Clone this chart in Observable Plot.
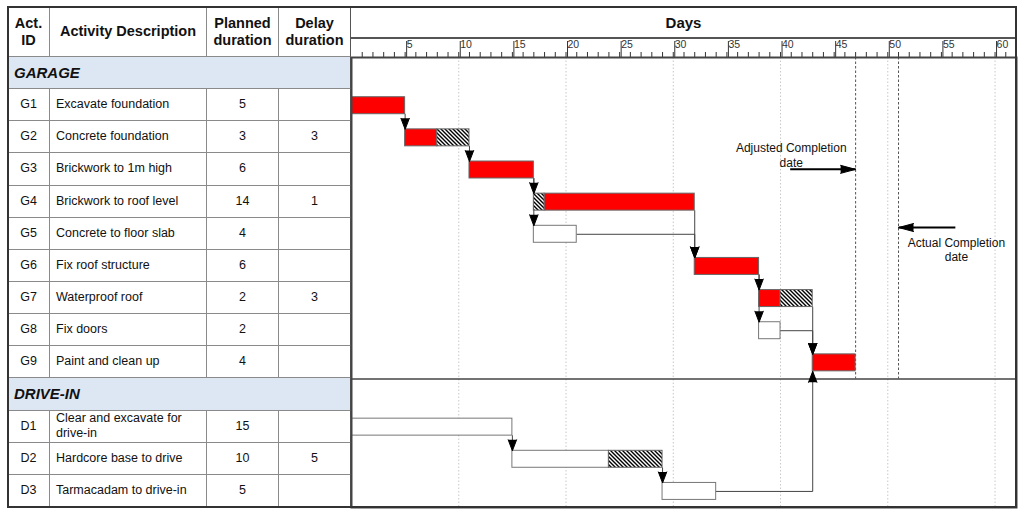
<!DOCTYPE html>
<html>
<head>
<meta charset="utf-8">
<script src="https://cdn.jsdelivr.net/npm/d3@7"></script>
<script src="https://cdn.jsdelivr.net/npm/@observablehq/plot@0.6"></script>
<style>
html, body { margin: 0; padding: 0; background: #fff; }
body { width: 1024px; height: 513px; overflow: hidden; font-family: "Liberation Sans", Arial, sans-serif; color: #111; }
#wrap { position: relative; width: 1024px; height: 513px; }
#table { position: absolute; left: 8px; top: 7px; width: 343px; height: 500px; display: grid;
  grid-template-columns: 42px 157px 72px 72px; grid-template-rows: 50px repeat(14, 1fr); }
.c { border-right: 1px solid #8a8a8a; border-bottom: 1px solid #8a8a8a; display: flex; align-items: center;
  justify-content: center; text-align: center; font-size: 12.5px; box-sizing: border-box; white-space: pre-line; line-height: 15px; }
.h { font-weight: bold; font-size: 14.5px; line-height: 17px; }
.d { justify-content: flex-start; text-align: left; padding-left: 6px; }
.g { grid-column: 1 / span 4; justify-content: flex-start; padding-left: 6px; font-weight: bold; font-style: italic;
  font-size: 15px; background: #dde7f3; }
.last { border-right: 1px solid #555; }
#days { position: absolute; left: 351px; top: 7px; width: 665px; height: 32px; border-bottom: 2px solid #555;
  box-sizing: border-box; display: flex; align-items: center; justify-content: center; font-weight: bold; font-size: 15px; }
#chart { position: absolute; left: 351px; top: 39px; }
#border { position: absolute; left: 7px; top: 6px; width: 1010px; height: 502px; border: 2px solid #333;
  box-sizing: border-box; pointer-events: none; }
</style>
</head>
<body>
<div id="wrap">
  <div id="table"></div>
  <div id="days">Days</div>
  <div id="chart"></div>
  <div id="border"></div>
</div>
<script>
// ---------- data ----------
const groups = ["GARAGE", "DRIVE-IN"];
const ids = ["G1", "G2", "G3", "G4", "G5", "G6", "G7", "G8", "G9", "D1", "D2", "D3"];
const taskGroup = ["GARAGE", "GARAGE", "GARAGE", "GARAGE", "GARAGE", "GARAGE", "GARAGE", "GARAGE", "GARAGE",
  "DRIVE-IN", "DRIVE-IN", "DRIVE-IN"];
const descriptions = ["Excavate foundation", "Concrete foundation", "Brickwork to 1m high", "Brickwork to roof level",
  "Concrete to floor slab", "Fix roof structure", "Waterproof roof", "Fix doors", "Paint and clean up",
  "Clear and excavate for\ndrive-in", "Hardcore base to drive", "Tarmacadam to drive-in"];
const planned = [5, 3, 6, 14, 4, 6, 2, 2, 4, 15, 10, 5];
const delays = [null, 3, null, 1, null, null, 3, null, null, null, 5, null];
// bar extents as drawn in the chart (days)
const workStart = [0, 5, 11, 18, 17, 32, 38, 38, 43, 0, 15, 29];
const workEnd = [5, 8, 17, 32, 21, 38, 40, 40, 47, 15, 24, 34];
const delayStart = [null, 8, null, 17, null, null, 40, null, null, null, 24, null];
const delayEnd = [null, 11, null, 18, null, null, 43, null, null, null, 29, null];
const critical = [true, true, true, true, false, true, true, false, true, false, false, false];
const linkFrom = ["G1", "G2", "G3", "G3", "G4", "G5", "G6", "G6", "G7", "G8", "D1", "D2", "D3"];
const linkTo = ["G2", "G3", "G4", "G5", "G6", "G6", "G7", "G8", "G9", "G9", "D2", "D3", "G9"];
const headers = ["Act.\nID", "Activity Description", "Planned\nduration", "Delay\nduration"];
const gridDays = [10, 20, 30, 40, 50, 60];
const majorTicks = [5, 10, 15, 20, 25, 30, 35, 40, 45, 50, 55, 60];
const minorTicks = d3.range(1, 62);
const completionDays = [47, 51];
const completionLabels = ["Adjusted Completion\ndate", "Actual Completion\ndate"];
const labelDay = [41, 56.4];
const labelRow = [3.03, 5.97];
const arrowFromDay = [40.9, 56.3];
const arrowRow = [3.48, 5.29];

// ---------- layout ----------
const layout = [];
let rowCounter = 0;
groups.forEach(g => {
  layout.push({type: "group", name: g, row: rowCounter++});
  ids.forEach((id, i) => { if (taskGroup[i] === g) layout.push({type: "task", i, row: rowCounter++}); });
});
const nRows = rowCounter;
const rowOf = {};
layout.filter(d => d.type === "task").forEach(d => rowOf[ids[d.i]] = d.row);
const idx = Object.fromEntries(ids.map((id, i) => [id, i]));
const BI = 0.236; // bar inset as fraction of row
const startOf = i => Math.min(workStart[i], delayStart[i] ?? Infinity);
const finishOf = i => Math.max(workEnd[i], delayEnd[i] ?? -Infinity);

// ---------- table ----------
const table = document.getElementById("table");
function cell(cls, txt) { const d = document.createElement("div"); d.className = cls; d.textContent = txt; table.appendChild(d); }
headers.forEach((h, k) => cell("c h" + (k === 3 ? " last" : ""), h));
layout.forEach(L => {
  if (L.type === "group") cell("c g last", L.name);
  else {
    const i = L.i;
    cell("c", ids[i]); cell("c d", descriptions[i]); cell("c", String(planned[i])); cell("c last", delays[i] != null ? String(delays[i]) : "");
  }
});

// ---------- chart data ----------
const work = ids.map((id, i) => ({x1: workStart[i], x2: workEnd[i], y1: rowOf[id] + BI, y2: rowOf[id] + 1 - BI, crit: critical[i]}));
const delaySegs = ids.map((id, i) => ({i, id})).filter(d => delayStart[d.i] != null)
  .map(d => ({x1: delayStart[d.i], x2: delayEnd[d.i], y1: rowOf[d.id] + BI, y2: rowOf[d.id] + 1 - BI}));

const connectorPts = [];
const heads = [];
linkFrom.forEach((a, k) => {
  const b = linkTo[k];
  const ia = idx[a], ib = idx[b];
  const fa = finishOf(ia), sb = startOf(ib), ra = rowOf[a], rb = rowOf[b];
  let pts;
  if (rb > ra) {
    if (fa < sb) pts = [[fa, ra + 0.5], [sb, ra + 0.5], [sb, rb + BI]];
    else pts = [[fa, ra + 1 - BI], [fa, rb + BI]];
    heads.push({x: sb, y: rb + BI, rotate: 180});
  } else {
    if (fa < sb) pts = [[fa, ra + 0.5], [sb, ra + 0.5], [sb, rb + 1 - BI]];
    else pts = [[fa, ra + BI], [fa, rb + 1 - BI]];
    heads.push({x: sb, y: rb + 1 - BI, rotate: 0});
  }
  pts.forEach(p => connectorPts.push({link: k, x: p[0], y: p[1]}));
});

const annots = completionDays.map((d, k) => ({
  day: d, label: completionLabels[k], lx: labelDay[k], ly: labelRow[k], ax: arrowFromDay[k], ay: arrowRow[k],
  rotate: arrowFromDay[k] < d ? 90 : 270
}));
const drivingRow = layout.find(d => d.type === "group" && d.name === "DRIVE-IN").row;

// ---------- plot ----------
const plot = Plot.plot({
  width: 665, height: 468,
  marginTop: 18, marginBottom: 0, marginLeft: 0, marginRight: 0,
  style: {fontFamily: "'Liberation Sans', Arial, sans-serif", fontSize: "11px", background: "transparent", overflow: "visible", color: "#111"},
  x: {domain: [0, 62], label: null},
  y: {domain: [0, nRows], reverse: true, axis: null},
  marks: [
    Plot.ruleX(gridDays, {y1: 0, y2: nRows, stroke: "#c8c8c8", strokeDasharray: "1.5,2"}),
    Plot.ruleX(completionDays, {y1: 0, y2: drivingRow, stroke: "#555", strokeDasharray: "2.5,2"}),
    Plot.ruleY([drivingRow], {stroke: "#444", strokeWidth: 1.5}),
    Plot.line(connectorPts, {x: "x", y: "y", z: "link", stroke: "#444", strokeWidth: 1, curve: "linear"}),
    Plot.rect(work.filter(d => d.crit), {x1: "x1", x2: "x2", y1: "y1", y2: "y2", fill: "#ff0000", stroke: "#666", strokeWidth: 1}),
    Plot.rect(work.filter(d => !d.crit), {x1: "x1", x2: "x2", y1: "y1", y2: "y2", fill: "white", stroke: "#777", strokeWidth: 1}),
    Plot.rect(delaySegs, {x1: "x1", x2: "x2", y1: "y1", y2: "y2", fill: "url(#hatch)", stroke: "#666", strokeWidth: 1}),
    Plot.vector(heads, {x: "x", y: "y", rotate: "rotate", length: 11, r: 4.2, shape: "spike", anchor: "end", fill: "black", stroke: "black", strokeWidth: 1}),
    Plot.link(annots, {x1: "ax", x2: "day", y1: "ay", y2: "ay", stroke: "black", strokeWidth: 2}),
    Plot.vector(annots, {x: "day", y: "ay", rotate: "rotate", length: 15, r: 4, shape: "spike", anchor: "end", fill: "black", stroke: "black", strokeWidth: 1}),
    Plot.text(annots, {x: "lx", y: "ly", text: "label", lineAnchor: "middle", textAnchor: "middle", fontSize: 12, lineHeight: 1.2, fill: "#111"}),
    Plot.axisX(minorTicks, {anchor: "top", tickSize: 6, tickFormat: () => "", stroke: "#333"}),
    Plot.axisX(majorTicks, {anchor: "top", tickSize: 17, tickPadding: 0, lineAnchor: "top", textAnchor: "start", dx: 1.5, fontSize: 10.5, fill: "#333", stroke: "#333", label: null}),
    Plot.frame({stroke: "#444", strokeWidth: 2})
  ]
});

const svg = d3.select(plot);
const defs = svg.insert("defs", ":first-child");
const pat = defs.append("pattern").attr("id", "hatch").attr("patternUnits", "userSpaceOnUse").attr("width", 4).attr("height", 4);
pat.append("rect").attr("width", 4).attr("height", 4).attr("fill", "white");
pat.append("path").attr("d", "M-1,3 l2,2 M0,0 l4,4 M3,-1 l2,2").attr("stroke", "black").attr("stroke-width", 1.4);
document.getElementById("chart").appendChild(plot);
</script>
</body>
</html>
